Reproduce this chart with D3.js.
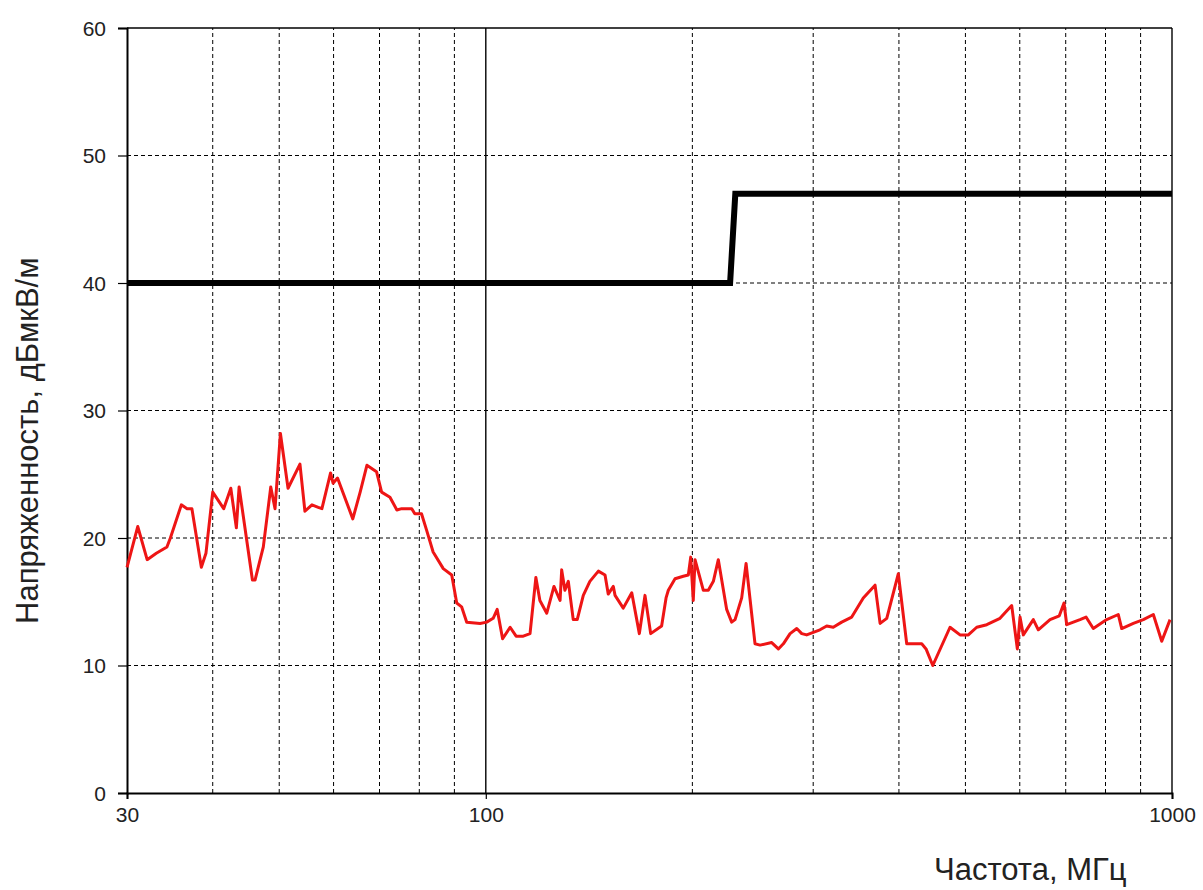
<!DOCTYPE html>
<html>
<head>
<meta charset="utf-8">
<script src="https://cdn.jsdelivr.net/npm/d3@7"></script>
<style>
  body { margin: 0; background: #fff; }
  text { font-family: Arial, "Liberation Sans", sans-serif; fill: #222; }
</style>
</head>
<body>
<div id="chart"></div>
<script>
// measured spectrum, MHz / dBuV/m
const freqs = [30.0, 31.1, 32.1, 33.1, 34.3, 34.7, 36.0, 36.7, 37.3, 38.5, 39.1, 40.0, 41.5, 42.5, 43.3, 43.7,
  45.7, 46.1, 47.4, 48.6, 49.3, 50.2, 51.5, 53.6, 54.5, 55.8, 57.0, 57.7, 59.4, 59.9, 60.8, 64.0, 65.6, 67.1,
  69.3, 70.5, 72.5, 74.2, 75.4, 78.0, 78.8, 80.6, 82.0, 83.8, 86.7, 89.2, 90.7, 92.2, 93.8, 98.1, 100.3, 102.5,
  103.9, 105.8, 108.5, 110.7, 113.4, 116.0, 118.3, 119.9, 122.7, 125.7, 128.3, 129.0, 130.4, 131.9, 134.1,
  135.9, 138.7, 141.8, 145.9, 149.2, 150.8, 153.4, 154.3, 158.6, 163.2, 167.4, 170.6, 173.9, 180.4, 183.1,
  184.5, 188.7, 194.0, 197.3, 198.9, 200.6, 201.8, 207.5, 211.0, 214.6, 218.2, 224.4, 228.2, 230.8, 236.0,
  239.5, 246.8, 251.0, 261.0, 266.9, 271.4, 277.6, 283.9, 288.7, 293.5, 300.1, 306.9, 313.9, 320.9, 330.1,
  341.4, 354.9, 369.2, 375.5, 384.0, 399.2, 410.6, 431.8, 438.1, 448.1, 474.8, 491.0, 504.9, 519.3, 537.1,
  561.5, 584.0, 595.1, 600.5, 607.2, 627.9, 638.5, 664.1, 685.1, 696.0, 702.4, 734.4, 749.4, 767.9, 803.2,
  835.1, 844.7, 878.3, 908.3, 939.3, 966.2, 993.5]
const levels = [17.7, 20.9, 18.3, 18.8, 19.3, 20.0, 22.6, 22.3, 22.3, 17.7, 18.8, 23.6, 22.3, 23.9, 20.8, 24.0,
  16.7, 16.7, 19.3, 24.0, 22.3, 28.2, 23.9, 25.8, 22.1, 22.6, 22.4, 22.3, 25.1, 24.3, 24.7, 21.5, 23.6, 25.7,
  25.2, 23.6, 23.2, 22.2, 22.3, 22.3, 21.9, 21.9, 20.6, 18.9, 17.6, 17.1, 14.9, 14.6, 13.4, 13.3, 13.4, 13.7,
  14.4, 12.1, 13.0, 12.3, 12.3, 12.5, 16.9, 15.1, 14.1, 16.2, 15.1, 17.5, 15.9, 16.6, 13.6,
  13.6, 15.5, 16.6, 17.4, 17.1, 15.6, 16.2, 15.5, 14.5, 15.7, 12.5, 15.5, 12.5, 13.1, 15.3,
  15.9, 16.8, 17.0, 17.1, 18.5, 15.1, 18.3, 15.9, 15.9, 16.6, 18.3, 14.4, 13.4, 13.6, 15.3,
  18.0, 11.7, 11.6, 11.8, 11.3, 11.7, 12.5, 12.9, 12.5, 12.4, 12.6, 12.8, 13.1, 13.0, 13.4,
  13.8, 15.3, 16.3, 13.3, 13.7, 17.2, 11.7, 11.7, 11.3, 10.0, 13.0, 12.4, 12.4, 13.0, 13.2,
  13.7, 14.7, 11.3, 13.8, 12.4, 13.6, 12.8, 13.6, 13.9, 14.9, 13.2, 13.6, 13.8, 12.9, 13.6,
  14.0, 12.9, 13.3, 13.6, 14.0, 11.9, 13.6]

// limit line
const limitFreqs = [30, 227, 231, 1000]
const limitLevels = [40, 40, 47, 47]

const gridFreqs = [40, 50, 60, 70, 80, 90, 100, 200, 300, 400, 500, 600, 700, 800, 900]
const xTicks = [30, 100, 1000]
const yTicks = [0, 10, 20, 30, 40, 50, 60]
const xTitle = 'Частота, МГц'
const yTitle = 'Напряженность, дБмкВ/м'

const width = 1203, height = 890
const margin = { top: 28, right: 31, bottom: 97, left: 127 }

const svg = d3.select('#chart').append('svg').attr('width', width).attr('height', height)

const x = d3.scaleLog().domain([30, 1000]).range([margin.left, width - margin.right])
const y = d3.scaleLinear().domain([0, 60]).range([height - margin.bottom, margin.top])

// grid
svg.append('g').selectAll('line').data(gridFreqs).enter().append('line')
    .attr('x1', d => x(d)).attr('x2', d => x(d))
    .attr('y1', y(0)).attr('y2', y(60))
    .attr('stroke', '#000').attr('stroke-width', d => d === 100 ? 1.4 : 1)
    .attr('stroke-dasharray', d => d === 100 ? null : '4,3')
svg.append('g').selectAll('line').data(yTicks.filter(d => d > 0 && d < 60)).enter().append('line')
    .attr('x1', x(30)).attr('x2', x(1000))
    .attr('y1', d => y(d)).attr('y2', d => y(d))
    .attr('stroke', '#000').attr('stroke-width', 1).attr('stroke-dasharray', '4,3')

// frame
svg.append('line').attr('x1', x(30)).attr('x2', x(1000)).attr('y1', y(60)).attr('y2', y(60))
    .attr('stroke', '#000').attr('stroke-width', 1.4)
svg.append('line').attr('x1', x(1000)).attr('x2', x(1000)).attr('y1', y(0)).attr('y2', y(60))
    .attr('stroke', '#000').attr('stroke-width', 1.4)

// axes
const xAxis = svg.append('g').attr('transform', `translate(0,${y(0)})`)
    .call(d3.axisBottom(x).tickValues(xTicks).tickFormat(d3.format('d')).tickSize(6).tickPadding(8))
const yAxis = svg.append('g').attr('transform', `translate(${x(30)},0)`)
    .call(d3.axisLeft(y).tickValues(yTicks).tickSize(9).tickPadding(12))
;[xAxis, yAxis].forEach(a => {
    a.select('.domain').attr('stroke', '#000').attr('stroke-width', 2)
    a.selectAll('.tick line').attr('stroke', '#000').attr('stroke-width', 1.2)
    a.selectAll('text').style('font-size', '21px').attr('fill', '#222')
})
yAxis.selectAll('text').attr('dy', '0.35em')

// series
const line = d3.line().x(d => x(d[0])).y(d => y(d[1]))
svg.append('path').datum(limitFreqs.map((f, i) => [f, limitLevels[i]]))
    .attr('d', line).attr('fill', 'none').attr('stroke', '#000')
    .attr('stroke-width', 6).attr('stroke-linejoin', 'miter')
svg.append('path').datum(freqs.map((f, i) => [f, levels[i]]))
    .attr('d', line).attr('fill', 'none').attr('stroke', '#ee1515')
    .attr('stroke-width', 3).attr('stroke-linejoin', 'round')

// titles
svg.append('text').attr('x', 934).attr('y', 880).style('font-size', '31px').text(xTitle)
svg.append('text').attr('transform', 'translate(38,624) rotate(-90)')
    .style('font-size', '31px').text(yTitle)
</script>
</body>
</html>
